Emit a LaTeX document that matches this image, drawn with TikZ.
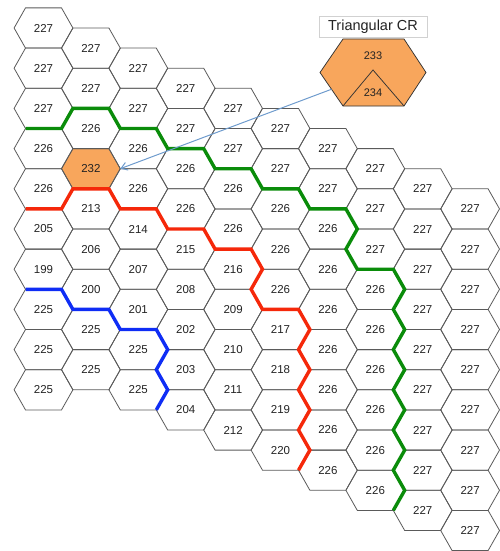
\documentclass[tikz,border=0pt]{standalone}
\usepackage{fontspec}
\setmainfont{Liberation Sans}
\usetikzlibrary{calc,arrows.meta,backgrounds}
\definecolor{hexorange}{RGB}{248,166,92}
\definecolor{hexline}{RGB}{90,90,90}
\definecolor{pathgreen}{RGB}{10,140,10}
\definecolor{pathred}{RGB}{245,40,10}
\definecolor{pathblue}{RGB}{15,45,245}
\definecolor{arrowblue}{RGB}{110,155,205}
\definecolor{labtext}{RGB}{35,35,35}
\newcommand\hexcol[2]{%
  \foreach \l [count=\rr from 0] in {#2} {
    \pgfmathsetmacro\X{43.5+47.4*#1}
    \pgfmathsetmacro\Y{28+20.1*#1+40.2*\rr}
    \coordinate (h#1-\rr) at (\X,\Y);
    \coordinate (h#1-\rr-L) at (\X-29.4,\Y);
    \coordinate (h#1-\rr-UL) at (\X-18,\Y-20.1);
    \coordinate (h#1-\rr-UR) at (\X+18,\Y-20.1);
    \coordinate (h#1-\rr-R) at (\X+29.4,\Y);
    \coordinate (h#1-\rr-LR) at (\X+18,\Y+20.1);
    \coordinate (h#1-\rr-LL) at (\X-18,\Y+20.1);
    \draw[hexedge] (h#1-\rr-L) -- (h#1-\rr-UL) -- (h#1-\rr-UR) -- (h#1-\rr-R)
      -- (h#1-\rr-LR) -- (h#1-\rr-LL) -- cycle;
    \node[hexlab] (t#1-\rr) at (h#1-\rr) {\l};
  }}
\begin{document}
\begin{tikzpicture}[x=1pt,y=-1pt,
  hexedge/.style={draw=hexline,line width=0.8pt,line join=miter},
  hexlab/.style={text=labtext,font=\fontsize{11.5}{12}\selectfont,inner sep=0pt},
  bound/.style={line width=3.4pt,line join=miter,line cap=butt},
  smalllab/.style={text=labtext,font=\fontsize{11}{12}\selectfont,inner sep=0pt},
  titlebox/.style={draw=black!18,fill=white,line width=0.6pt,minimum width=108pt,minimum height=21pt,inner sep=0pt,font=\fontsize{14.5}{16}\selectfont,text=labtext}]
\useasboundingbox (0,0) rectangle (500,551);
\hexcol{0}{227,227,227,226,226,205,199,225,225,225}
\hexcol{1}{227,227,226,232,213,206,200,225,225}
\hexcol{2}{227,227,226,226,214,207,201,225,225}
\hexcol{3}{227,227,226,226,215,208,202,203,204}
\hexcol{4}{227,227,226,226,216,209,210,211,212}
\hexcol{5}{227,227,226,226,226,217,218,219,220}
\hexcol{6}{227,227,226,226,226,226,226,226,226}
\hexcol{7}{227,227,227,226,226,226,226,226,226}
\hexcol{8}{227,227,227,227,227,227,227,227,227}
\hexcol{9}{227,227,227,227,227,227,227,227,227}
\begin{scope}[on background layer]
  \fill[hexorange] (h1-3-L) -- (h1-3-UL) -- (h1-3-UR) -- (h1-3-R) -- (h1-3-LR) -- (h1-3-LL) -- cycle;
\end{scope}
% boundaries
\draw[bound,pathgreen] (h0-2-LL) -- (h0-2-LR) -- (h1-2-UL) -- (h1-2-UR) -- (h1-2-R)
  -- (h2-2-UR) -- (h2-2-R) -- (h3-2-UR) -- (h3-2-R) -- (h4-2-UR) -- (h4-2-R)
  -- (h5-2-UR) -- (h5-2-R) -- (h6-2-UR) -- (h7-1-LL) -- (h7-2-L) -- (h7-2-LL)
  -- (h7-2-LR) -- (h8-2-LL) -- (h8-3-L) -- (h8-3-LL) -- (h8-4-L) -- (h8-4-LL)
  -- (h8-5-L) -- (h8-5-LL) -- (h8-6-L) -- (h8-6-LL) -- (h8-7-L) -- (h8-7-LL) -- (h8-8-L);
\draw[bound,pathred] (h0-4-LL) -- (h0-4-LR) -- (h1-4-UL) -- (h1-4-UR) -- (h1-4-R)
  -- (h2-4-UR) -- (h2-4-R) -- (h3-4-UR) -- (h3-4-R) -- (h4-4-UR) -- (h4-4-R)
  -- (h4-4-LR) -- (h4-5-R) -- (h5-5-UR) -- (h5-5-R) -- (h5-5-LR) -- (h5-6-R)
  -- (h5-6-LR) -- (h5-7-R) -- (h5-7-LR) -- (h5-8-R) -- (h5-8-LR);
\draw[bound,pathblue] (h0-6-LL) -- (h0-6-LR) -- (h1-6-LL) -- (h1-6-LR) -- (h2-6-LL)
  -- (h2-6-LR) -- (h3-6-LL) -- (h3-7-L) -- (h3-7-LL) -- (h3-8-L);
% triangular CR
\coordinate (cr) at (373,72.5);
\coordinate (crL) at (320,72.5);
\coordinate (crUL) at (343,39);
\coordinate (crUR) at (404,39);
\coordinate (crR) at (426,72.5);
\coordinate (crLR) at (404,106);
\coordinate (crLL) at (343,106);
\coordinate (crT) at (373,70);
\filldraw[fill=hexorange,draw=black!80,line width=0.75pt] (crL) -- (crUL) -- (crUR) -- (crR) -- (crLR) -- (crLL) -- cycle;
\draw[black!80,line width=0.75pt] (crLL) -- (crT) -- (crLR);
\node[smalllab] (c233) at (373,56) {233};
\node[smalllab] (c234) at (373,93) {234};
\node[titlebox] (title) at (373,26.5) {Triangular CR};
\coordinate (arrstart) at ($(crL)!0.5!(crLL)$);
\draw[arrowblue,line width=1pt,-{Straight Barb[length=6pt,width=8pt]}] (arrstart) -- (h1-3-R);
\end{tikzpicture}
\end{document}
